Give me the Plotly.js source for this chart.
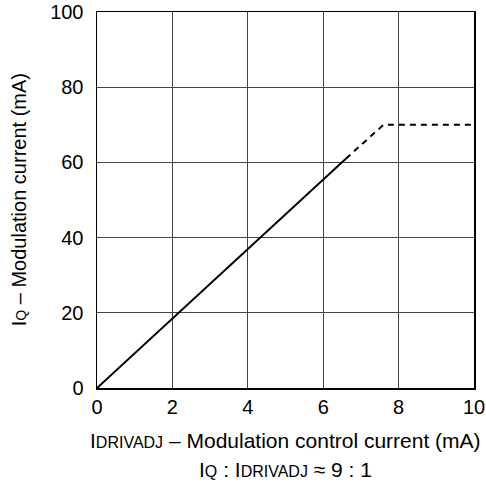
<!DOCTYPE html>
<html><head><meta charset="utf-8">
<script src="https://cdn.plot.ly/plotly-3.0.1.min.js"></script>
<style>body{margin:0;padding:0;background:#fff}#c{width:486px;height:486px}</style>
</head><body><div id="c"></div>
<script>
// Solid part of the characteristic
var solidX = [0, 6.6];
var solidY = [0, 61];
// Dashed (extrapolated / saturated) part
var dashX = [6.6, 7.6, 10];
var dashY = [61, 70, 70];
var xTicks = [0, 2, 4, 6, 8, 10];
var yTicks = [0, 20, 40, 60, 80, 100];

var sub = function(t, s){ return '<span style="font-size:' + (s || 16) + 'px">' + t + '</span>'; };

var traces = [
  {x: solidX, y: solidY, mode: 'lines', line: {color: '#000', width: 2}, hoverinfo: 'skip'},
  {x: dashX, y: dashY, mode: 'lines', line: {color: '#000', width: 2, dash: '6px,5px'}, hoverinfo: 'skip'}
];

var layout = {
  width: 486, height: 486,
  margin: {l: 97, r: 12, t: 12, b: 98},
  showlegend: false,
  paper_bgcolor: '#fff', plot_bgcolor: '#fff',
  font: {family: 'Liberation Sans, Arial, sans-serif', color: '#000', size: 20},
  xaxis: {
    range: [0, 10], tickvals: xTicks, ticktext: xTicks.map(String),
    showgrid: true, gridcolor: '#444', gridwidth: 1,
    zeroline: false, showline: true, linecolor: '#000', linewidth: 1.5, mirror: true,
    ticks: '', ticklen: 0, tickfont: {size: 20}
  },
  yaxis: {
    range: [0, 100], tickvals: yTicks, ticktext: yTicks.map(String),
    showgrid: true, gridcolor: '#444', gridwidth: 1,
    zeroline: false, showline: true, linecolor: '#000', linewidth: 1.5, mirror: true,
    ticks: '', ticklen: 0, tickfont: {size: 20}, ticklabelstandoff: 8
  },
  annotations: [
    {xref: 'paper', yref: 'paper', x: -0.2063, y: 0.5, xanchor: 'center', yanchor: 'middle', showarrow: false,
     textangle: -90, text: 'I' + sub('Q', 14) + ' – Modulation current (mA)', font: {size: 20}},
    {xref: 'paper', yref: 'paper', x: 0.5, y: -0.1383, xanchor: 'center', yanchor: 'middle', showarrow: false,
     text: 'I' + sub('DRIVADJ') + ' – Modulation control current (mA)', font: {size: 21}},
    {xref: 'paper', yref: 'paper', x: 0.5, y: -0.218, xanchor: 'center', yanchor: 'middle', showarrow: false,
     text: 'I' + sub('Q') + ' : I' + sub('DRIVADJ') + ' ≈ 9 : 1', font: {size: 21}}
  ]
};

Plotly.newPlot('c', traces, layout, {displayModeBar: false, staticPlot: true});
</script>
</body></html>
